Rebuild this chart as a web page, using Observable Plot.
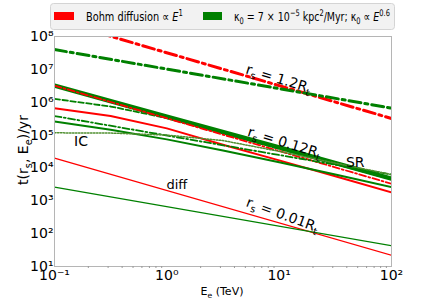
<!DOCTYPE html>
<html><head><meta charset="utf-8">
<script src="https://cdn.jsdelivr.net/npm/d3@7"></script>
<script src="https://cdn.jsdelivr.net/npm/@observablehq/plot@0.6"></script>
<style>
body{margin:0;background:#fff;}
#wrap{width:436px;height:300px;}
</style></head><body><div id="wrap"></div>
<script>
// ---- data (energy in TeV, time in yr) ----
const E2 = [0.1, 100];
const E4 = [0.1, 1, 10, 100];
const E7 = [0.1, 0.316, 1, 3.16, 10, 31.6, 100];

// diffusion times
const bohm_12   = [3.2e8, 3.2e5];   // r_s = 1.2 R_t, Bohm
const kappa_12  = [4.0e7, 6.6e5];   // r_s = 1.2 R_t, kappa0
const bohm_012  = [3.2e6, 3.3e3];   // r_s = 0.12 R_t
const kappa_012 = [3.8e5, 6.3e3];
const bohm_001  = [2.0e4, 22];      // r_s = 0.01 R_t
const kappa_001 = [2.6e3, 43];

// loss-type curves
const sr        = [3.2e6, 3.6e5, 4.2e4, 4.7e3];
const lossDash  = [1.26e6, 7.4e5, 3.3e5, 1.15e5, 3.8e4, 1.32e4, 4.5e3];
const bohmSolid = [6.6e5, 3.8e5, 1.6e5, 5.1e4, 1.7e4, 5.6e3, 1.8e3];
const kapSolid  = [2.6e5, 1.45e5, 7.4e4, 3.4e4, 1.48e4, 6.3e3, 2.6e3];
const ic        = [1.17e5, 1.15e5, 1.0e5, 6.8e4, 3.2e4, 1.4e4, 6.3e3];

const xTicks = [0.1, 1, 10, 100];
const xTickLabels = ["10⁻¹", "10⁰", "10¹", "10²"];
const yTicks = [1e1, 1e2, 1e3, 1e4, 1e5, 1e6, 1e7, 1e8];
const yTickLabels = ["10¹", "10²", "10³", "10⁴", "10⁵", "10⁶", "10⁷", "10⁸"];
const xMinor = [0.2,0.3,0.4,0.5,0.6,0.7,0.8,0.9,2,3,4,5,6,7,8,9,20,30,40,50,60,70,80,90];

const RED = "#ff0000", GREEN = "#008000";
const FONT = "'DejaVu Sans',sans-serif";

const tbl = (E, t) => E.map((e, i) => ({E: e, t: t[i]}));
const ln = (E, t, o) => Plot.line(tbl(E, t), {x: "E", y: "t", clip: true, ...o});

const chart = Plot.plot({
  width: 436, height: 300,
  marginLeft: 54, marginRight: 45, marginTop: 36, marginBottom: 34,
  style: {fontFamily: FONT, background: "#fff"},
  x: {type: "log", domain: [0.1, 100]},
  y: {type: "log", domain: [10, 1e8]},
  marks: [
    ln(E2, bohm_12,  {stroke: RED, strokeWidth: 3, strokeDasharray: "12,4,3,4"}),
    ln(E2, bohm_001, {stroke: RED, strokeWidth: 1.3}),
    ln(E7, bohmSolid,{stroke: RED, strokeWidth: 2}),
    ln(E2, kappa_12, {stroke: GREEN, strokeWidth: 3, strokeDasharray: "12,4,3,4"}),
    ln(E7, lossDash, {stroke: GREEN, strokeWidth: 1.8, strokeDasharray: "5.5,2.5"}),
    ln(E4, sr,       {stroke: GREEN, strokeWidth: 4.5}),
    ln(E2, bohm_012, {stroke: RED, strokeWidth: 1.8, strokeDasharray: "7,2.5,1.8,2.5"}),
    ln(E2, kappa_012,{stroke: GREEN, strokeWidth: 1.8, strokeDasharray: "7,2.5,1.8,2.5"}),
    ln(E7, kapSolid, {stroke: GREEN, strokeWidth: 2}),
    ln(E7, ic,       {stroke: "#4f8f2f", strokeWidth: 1.5, strokeDasharray: "1.5,1.5"}),
    ln(E2, kappa_001,{stroke: GREEN, strokeWidth: 1.3}),
    Plot.frame({stroke: "#b5b5b5", strokeWidth: 1}),
    Plot.axisX(xTicks, {tickSize: 0, tickPadding: 4, fontSize: 14, label: null,
      tickFormat: d => xTickLabels[xTicks.indexOf(d)]}),
    Plot.axisX(xMinor, {tickSize: 2, stroke: "#999", tickFormat: () => "", label: null}),
    Plot.axisY(yTicks, {tickSize: 0, tickPadding: 1, fontSize: 14, label: null,
      tickFormat: d => yTickLabels[yTicks.indexOf(d)]})
  ]
});
document.getElementById("wrap").appendChild(chart);

// ---- annotations ----
const sx = chart.scale("x"), sy = chart.scale("y");
const svg = d3.select(chart);

function rich(g, parts, fontSize, attrs) {
  const t = g.append("text").attr("font-family", FONT).attr("font-size", fontSize).attr("fill", "#000");
  for (const [k, v] of Object.entries(attrs || {})) t.attr(k, v);
  let shift = 0;
  for (const p of parts) {
    const [s, kind] = Array.isArray(p) ? p : [p, "n"];
    const target = kind === "sub" ? 0.25 : kind === "sup" ? -0.4 : 0;
    const fs = (kind === "sub" || kind === "sup") ? 0.7 : 1;
    t.append("tspan").attr("dy", ((target - shift) * fontSize).toFixed(2)).attr("font-size", fs * fontSize)
      .attr("font-style", kind === "it" ? "italic" : null).text(s);
    shift = target;
  }
  return t;
}
// place text with left edge at x, baseline y, squeezed horizontally to width w
function fit(t, x, y, w) {
  t.attr("text-anchor", "start");
  const nat = t.node().getComputedTextLength();
  t.attr("transform", `translate(${x},${y}) scale(${(w / nat).toFixed(4)},1)`);
}

// legend
const lg = svg.append("g").attr("text-anchor", "start");
lg.append("rect").attr("x", 50.5).attr("y", 3.5).attr("width", 344).attr("height", 26)
  .attr("rx", 3).attr("fill", "#f2f2f2").attr("stroke", "#d4d4d4");
lg.append("rect").attr("x", 54).attr("y", 12).attr("width", 20).attr("height", 8).attr("fill", RED);
lg.append("rect").attr("x", 203).attr("y", 12).attr("width", 19).attr("height", 8).attr("fill", GREEN);
fit(rich(lg, ["Bohm diffusion ∝ ", ["E", "it"], ["1", "sup"]], 13), 86, 21, 97);
fit(rich(lg, ["κ", ["0", "sub"], " = 7 × 10", ["−5", "sup"], " kpc", ["2", "sup"], "/Myr; ", "κ", ["0", "sub"], " ∝ ", ["E", "it"], ["0.6", "sup"]], 13), 234, 21, 156);

// axis titles
rich(svg, ["t(r", ["s", "sub"], ", E", ["e", "sub"], ")/yr"], 14,
  {"text-anchor": "middle", transform: "translate(28,150) rotate(-90)"});
rich(svg, ["E", ["e", "sub"], " (TeV)"], 11, {"text-anchor": "middle", transform: "translate(222,295)"});

// curve labels
const labels = [
  {E: 0.174, t: 6.3e4, parts: ["IC"], rot: 0, fs: 14},
  {E: 48, t: 1.48e4, parts: ["SR"], rot: 0, fs: 14},
  {E: 1.24, t: 2.95e3, parts: ["diff"], rot: 0, fs: 13},
  {E: 9.7, t: 5.2e6, parts: ["r", ["s", "sub"], " = 1.2R", ["t", "sub"]], rot: 17, fs: 14},
  {E: 11, t: 5.9e4, parts: ["r", ["s", "sub"], " = 0.12R", ["t", "sub"]], rot: 17, fs: 14},
  {E: 10.5, t: 380, parts: ["r", ["s", "sub"], " = 0.01R", ["t", "sub"]], rot: 20, fs: 14}
];
for (const l of labels) {
  const px = sx.apply(l.E), py = sy.apply(l.t) + l.fs * 0.35;
  rich(svg, l.parts, l.fs, {"text-anchor": "middle",
    transform: `translate(${px.toFixed(1)},${py.toFixed(1)}) rotate(${l.rot})`});
}
</script></body></html>
